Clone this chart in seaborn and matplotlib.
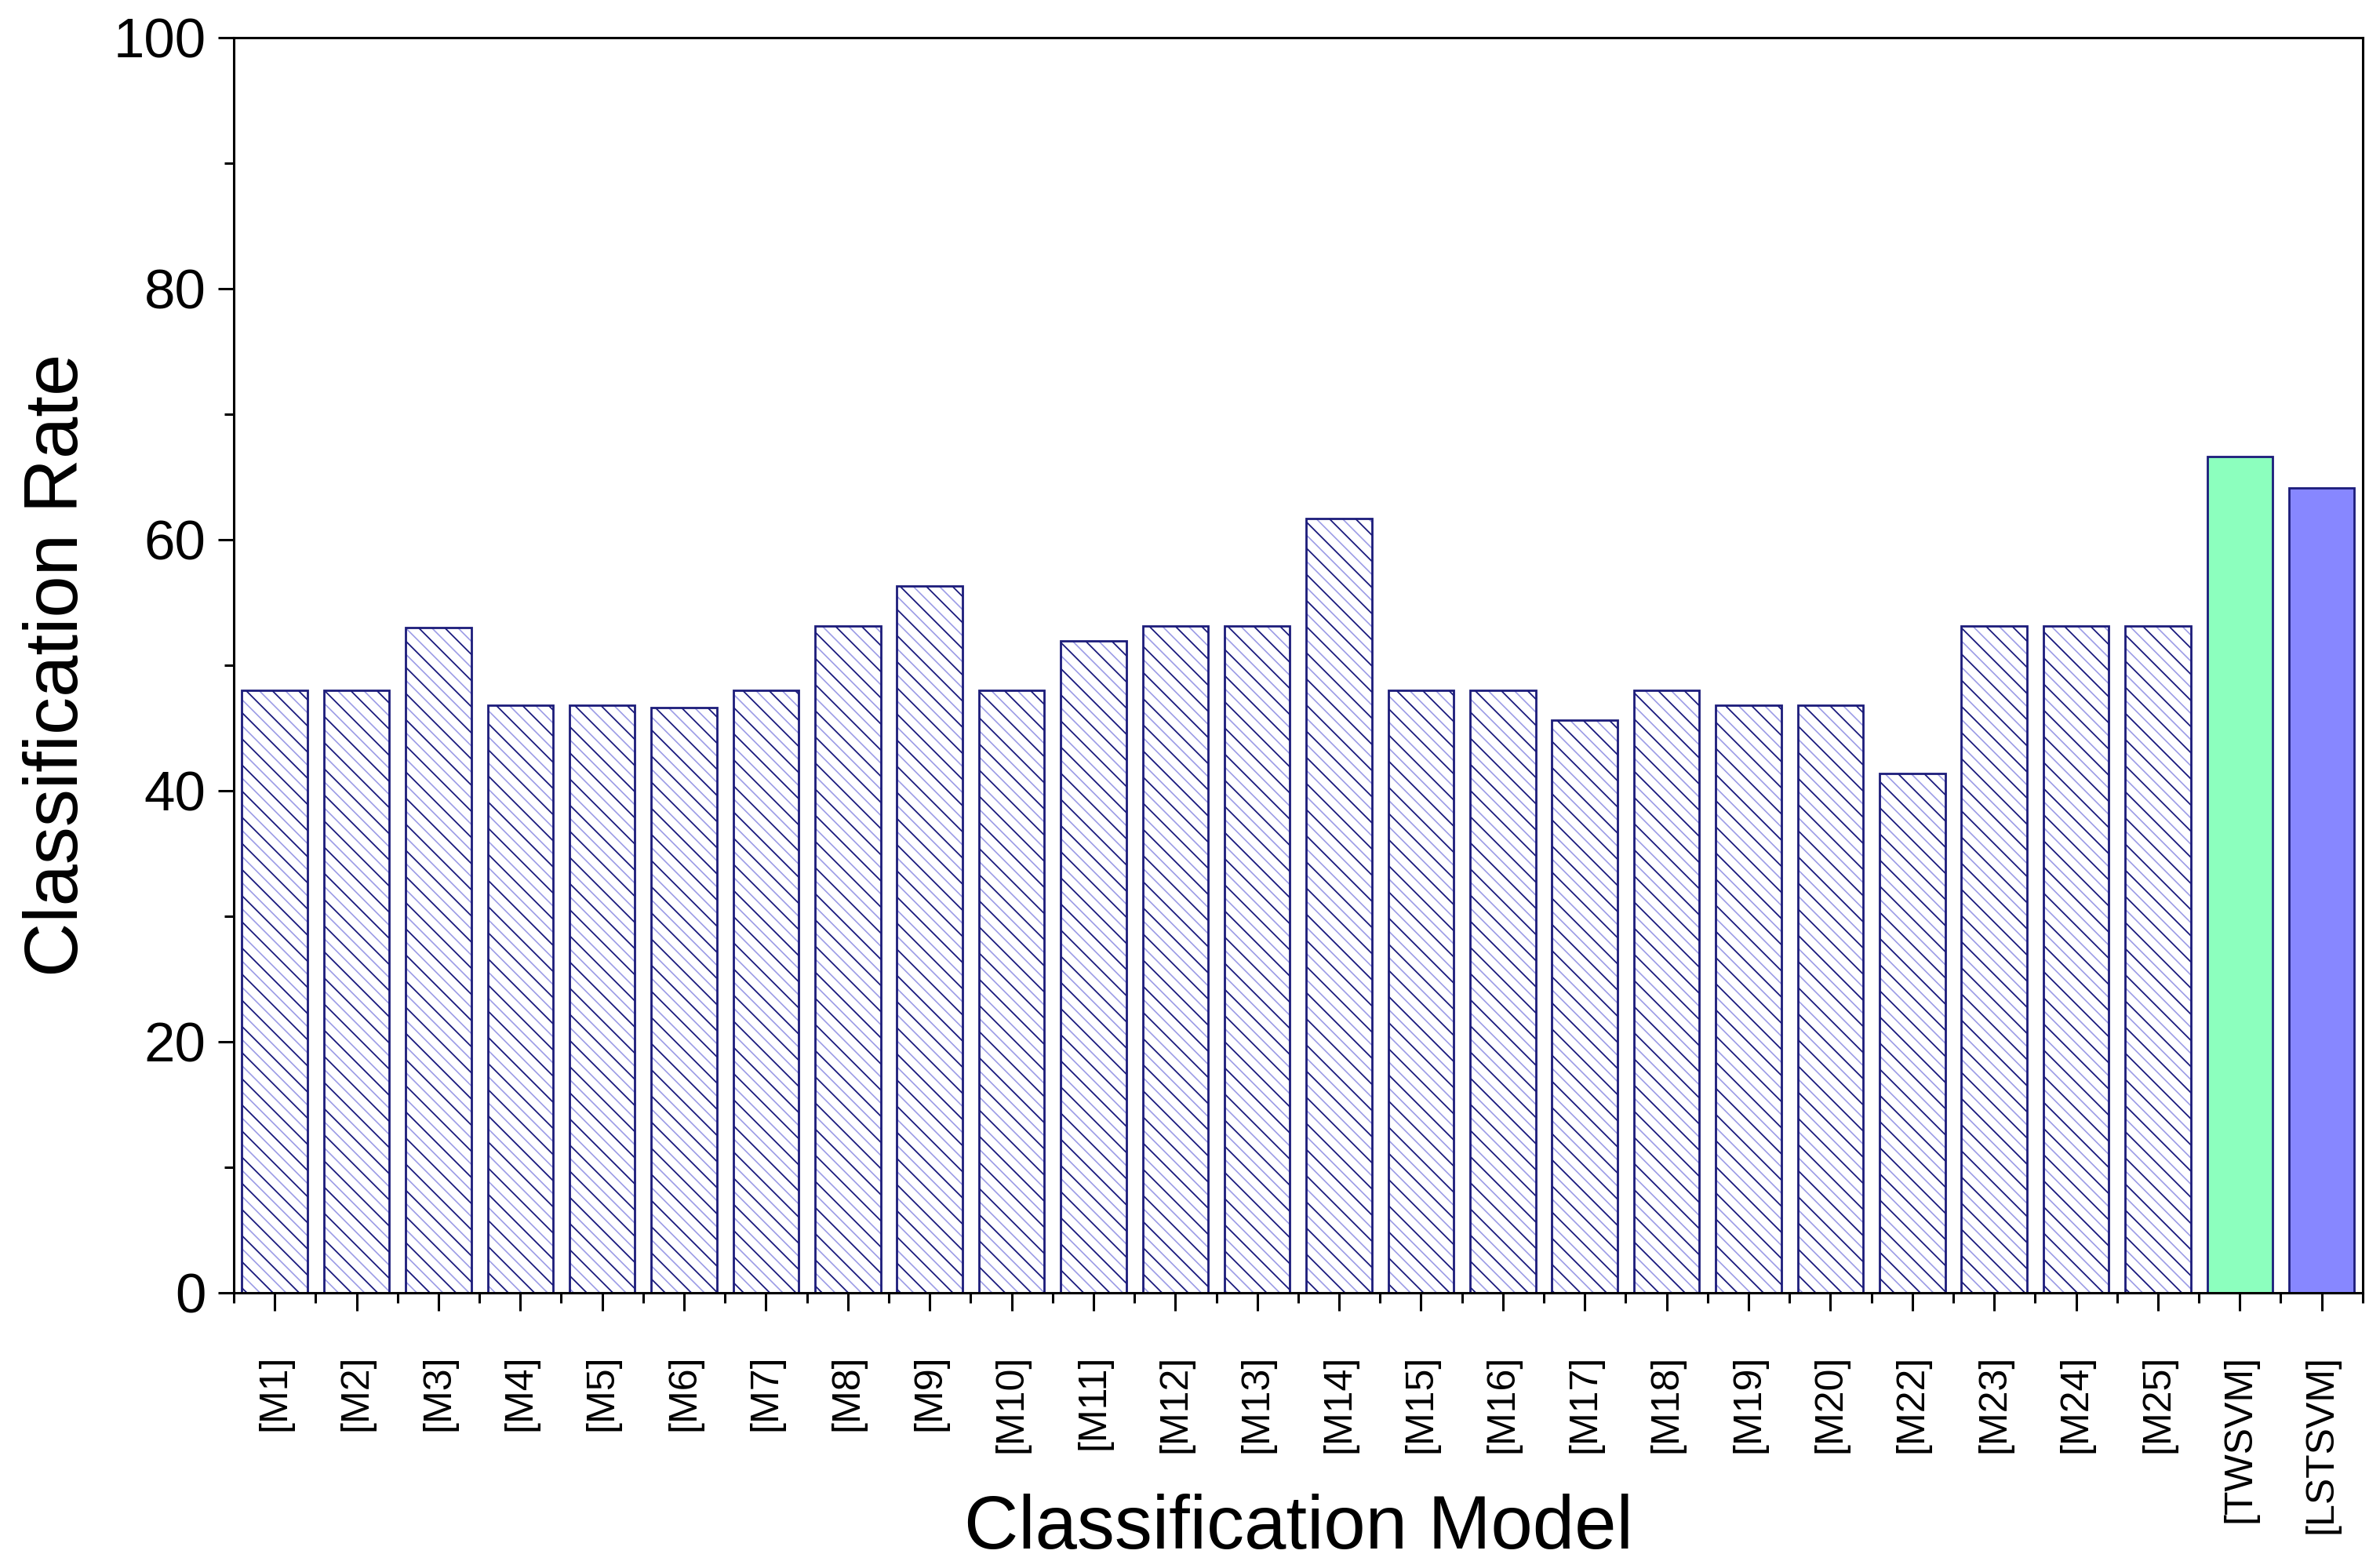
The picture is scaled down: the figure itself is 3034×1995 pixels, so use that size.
import matplotlib
matplotlib.use('Agg')
import matplotlib.pyplot as plt
from matplotlib.ticker import MultipleLocator, FixedLocator
import seaborn as sns

# classification rate per model
models = ['[M1]', '[M2]', '[M3]', '[M4]', '[M5]', '[M6]', '[M7]', '[M8]', '[M9]',
          '[M10]', '[M11]', '[M12]', '[M13]', '[M14]', '[M15]', '[M16]', '[M17]',
          '[M18]', '[M19]', '[M20]', '[M22]', '[M23]', '[M24]', '[M25]',
          '[TWSVM]', '[LSTSVM]']
rates = [48.0, 48.0, 53.0, 46.8, 46.8, 46.6, 48.0, 53.1, 56.3,
         48.0, 51.9, 53.1, 53.1, 61.7, 48.0, 48.0, 45.6,
         48.0, 46.8, 46.8, 41.4, 53.1, 53.1, 53.1,
         66.6, 64.1]
n_hatched = 24
fill_colors = ['white'] * n_hatched + ['#8cffbe', '#8787ff']

sns.set_style('ticks')
plt.rcParams['font.family'] = ['Liberation Sans', 'DejaVu Sans']
plt.rcParams['hatch.linewidth'] = 1.2
plt.rcParams['text.color'] = 'black'
plt.rcParams['axes.labelcolor'] = 'black'
plt.rcParams['xtick.color'] = 'black'
plt.rcParams['ytick.color'] = 'black'

fig = plt.figure(figsize=(30.34, 19.95), dpi=100)
ax = fig.add_axes([0.0982, 0.1739, 0.8945, 0.8022])

# light hatch layer
sns.barplot(x=models, y=rates, hue=models, palette=fill_colors, legend=False,
            saturation=1, width=0.8, edgecolor='#9c9ce6', linewidth=0, ax=ax)
n_layer = len(ax.patches)
for i, p in enumerate(ax.patches):
    if i < n_hatched:
        p.set_hatch('\\\\')

# dark hatch + outline layer
sns.barplot(x=models, y=rates, hue=models, palette=fill_colors, legend=False,
            saturation=1, width=0.8, edgecolor='#1c1c7a', linewidth=2.0, ax=ax)
for i, p in enumerate(ax.patches[n_layer:]):
    p.set_facecolor('none')
    if i < n_hatched:
        p.set_hatch('\\')

ax.set_xlim(-0.5, len(models) - 0.5)
ax.set_ylim(0, 100)
ax.yaxis.set_major_locator(MultipleLocator(20))
ax.yaxis.set_minor_locator(MultipleLocator(10))
ax.xaxis.set_minor_locator(FixedLocator([i + 0.5 for i in range(-1, len(models))]))

for s in ax.spines.values():
    s.set_linewidth(2.2)
    s.set_color('black')

ax.tick_params(axis='y', which='major', length=14.5, width=2.2, labelsize=51, pad=11, direction='out')
ax.tick_params(axis='y', which='minor', length=8.6, width=2.2, direction='out')
ax.tick_params(axis='x', which='major', length=16.5, width=2.2, labelsize=36, pad=40,
               direction='out', labelrotation=90)
ax.tick_params(axis='x', which='minor', length=9.5, width=2.2, direction='out')

ax.set_xlabel('Classification Model', fontsize=69)
ax.set_ylabel('Classification Rate', fontsize=69)
ax.xaxis.set_label_coords(0.5, -0.16)
ax.yaxis.set_label_coords(-0.066, 0.5)

fig.savefig('out.png', dpi=100, facecolor='white')
